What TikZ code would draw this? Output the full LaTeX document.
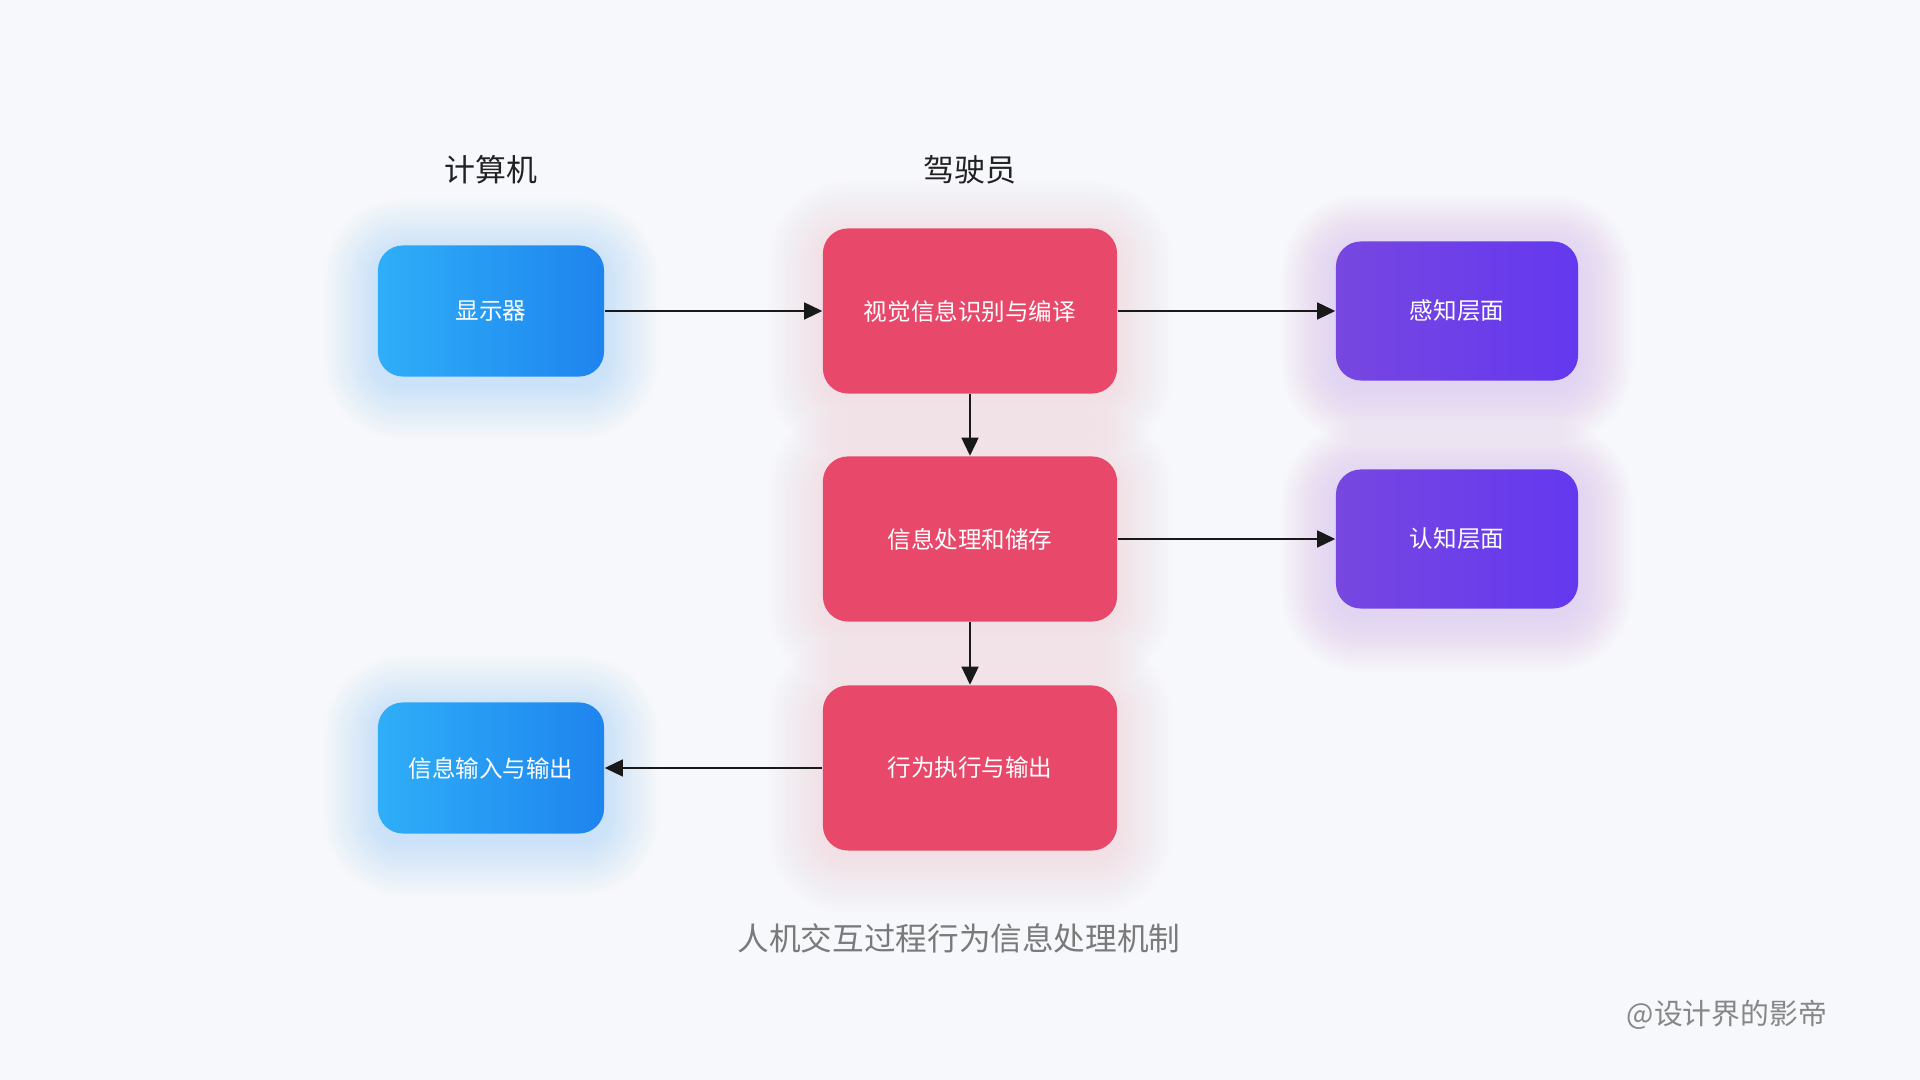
\documentclass[tikz,border=0pt]{standalone}
\usepackage{fontspec}
\setmainfont{Noto Sans CJK SC}
\usetikzlibrary{arrows.meta}
\usetikzlibrary{backgrounds}

\definecolor{pagebg}{HTML}{F7F8FC}
\definecolor{blueL}{HTML}{2FAEF8}
\definecolor{blueR}{HTML}{1E84EE}
\definecolor{redbox}{HTML}{E8486A}
\definecolor{purpL}{HTML}{7747E0}
\definecolor{purpR}{HTML}{6438EF}
\definecolor{headtext}{HTML}{222222}
\definecolor{greytext}{HTML}{7A7A7A}

% soft glow round a box, drawn on the background layer
\newcommand\glowbox[2]{%
    \foreach \k [evaluate=\k as \r using 0.25+\k*0.025] in {1,...,22}
        \fill[#2,opacity=0.008,rounded corners=\r cm]
            ([shift={(-\k*2.5,-\k*2.5+8)}]#1.north west) rectangle
            ([shift={(\k*2.5,\k*2.5+8)}]#1.south east);
}

\begin{document}
\begin{tikzpicture}[
    x=0.01cm,y=-0.01cm,
    box/.style={
        rounded corners=0.25cm,inner sep=0pt,text=white,
        font=\fontsize{6.7}{8}\selectfont
    },
    device/.style={
        box,left color=blueL,right color=blueR,
        minimum width=2.26cm,minimum height=1.31cm
    },
    driver/.style={
        box,fill=redbox,
        minimum width=2.94cm,minimum height=1.65cm
    },
    level/.style={
        box,left color=purpL,right color=purpR,
        minimum width=2.42cm,minimum height=1.39cm
    },
    head/.style={text=headtext,font=\fontsize{8.8}{10}\selectfont},
    flow/.style={
        draw=black!90,line width=0.4pt,
        -{Triangle[length=0.18cm,width=0.17cm]}
    }
]
    \useasboundingbox (0,0) rectangle (1920,1080);

    \node[head] (computer) at (491,170) {计算机};
    \node[head] (pilot)    at (970,170) {驾驶员};

    \node[device] (display) at (491,311) {显示器};
    \node[driver] (visual)  at (970,311) {视觉信息识别与编译};
    \node[level]  (sense)   at (1457,311) {感知层面};

    \node[driver] (process) at (970,539) {信息处理和储存};
    \node[level]  (cognit)  at (1457,539) {认知层面};

    \node[device] (inout)   at (491,768) {信息输入与输出};
    \node[driver] (action)  at (970,768) {行为执行与输出};

    \node[text=greytext,font=\fontsize{9}{11}\selectfont] (caption)
        at (959,938) {人机交互过程行为信息处理机制};
    \node[text=greytext!90,font=\fontsize{8.2}{10}\selectfont] (credit)
        at (1727,1015) {@设计界的影帝};

    \draw[flow] (display) -- (visual);
    \draw[flow] (visual) -- (sense);
    \draw[flow] (visual) -- (process);
    \draw[flow] (process) -- (cognit);
    \draw[flow] (process) -- (action);
    \draw[flow] (action) -- (inout);

    \begin{pgfonlayer}{background}
        \fill[pagebg] (0,0) rectangle (1920,1080);
        \glowbox{display}{blueL}
        \glowbox{inout}{blueL}
        \glowbox{visual}{redbox!60!pink}
        \glowbox{process}{redbox!60!pink}
        \glowbox{action}{redbox!60!pink}
        \glowbox{sense}{purpR!80!white}
        \glowbox{cognit}{purpR!80!white}
    \end{pgfonlayer}
\end{tikzpicture}
\end{document}
